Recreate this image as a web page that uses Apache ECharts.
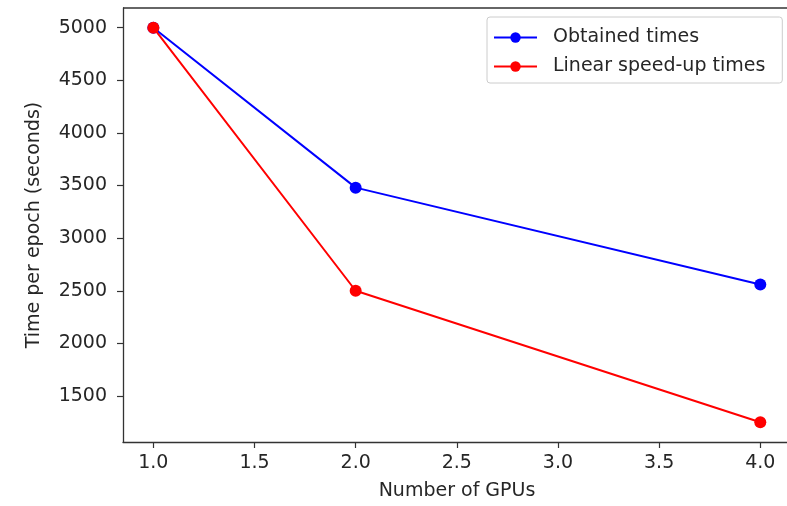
<!DOCTYPE html>
<html>
<head>
<meta charset="utf-8">
<script src="https://cdn.jsdelivr.net/npm/echarts@6/dist/echarts.min.js"></script>
<style>
  html, body { margin: 0; padding: 0; background: #fff; }
  #chart { width: 787px; height: 506px; }
</style>
</head>
<body>
<div id="chart"></div>
<script>
const gpus = [1, 2, 4];
const obtainedTimes = [5000, 3480, 2560];
const linearTimes = [5000, 2500, 1250];
const xTicks = [1.0, 1.5, 2.0, 2.5, 3.0, 3.5, 4.0];
const yTicks = [1500, 2000, 2500, 3000, 3500, 4000, 4500, 5000];

const font = 'DejaVu Sans';
const ink = '#262626';

const chart = echarts.init(document.getElementById('chart'));

const axisCommon = {
  axisLine: { show: true, lineStyle: { color: '#333', width: 1.3 } },
  axisTick: { show: true, length: 6, inside: false, lineStyle: { color: '#333', width: 1.2 } },
  splitLine: { show: false },
  nameTextStyle: { fontFamily: font, fontSize: 19, color: ink }
};

chart.setOption({
  animation: false,
  // the right spine sits just outside the picture, so the x range is cut at the edge
  grid: { left: 123, top: 8, right: 0, bottom: 62, containLabel: false },
  legend: {
    left: 487,
    top: 17,
    orient: 'vertical',
    padding: [11, 17, 7, 6],
    itemWidth: 43,
    itemHeight: 13,
    itemGap: 10,
    borderColor: '#ccc',
    borderWidth: 1,
    borderRadius: 3,
    backgroundColor: '#fff',
    textStyle: { fontFamily: font, fontSize: 19, color: ink, padding: [0, 0, 0, 11] },
    data: ['Obtained times', 'Linear speed-up times']
  },
  xAxis: Object.assign({}, axisCommon, {
    type: 'value',
    min: 0.85,
    max: 4.132,
    name: 'Number of GPUs',
    nameLocation: 'middle',
    nameGap: 40,
    nameTextStyle: { fontFamily: font, fontSize: 19, color: ink, padding: [0, 0, 0, 4] },
    axisTick: Object.assign({}, axisCommon.axisTick, { customValues: xTicks }),
    axisLabel: {
      customValues: xTicks,
      formatter: v => v.toFixed(1),
      fontFamily: font, fontSize: 19, color: ink, margin: 12
    }
  }),
  yAxis: Object.assign({}, axisCommon, {
    type: 'value',
    min: 1062.5,
    max: 5187.5,
    name: 'Time per epoch (seconds)',
    nameLocation: 'middle',
    nameGap: 79,
    axisTick: Object.assign({}, axisCommon.axisTick, { customValues: yTicks }),
    axisLabel: {
      customValues: yTicks,
      formatter: v => String(v),
      fontFamily: font, fontSize: 19, color: ink, margin: 16
    }
  }),
  series: [
    {
      name: 'Obtained times',
      type: 'line',
      data: gpus.map((g, i) => [g, obtainedTimes[i]]),
      color: '#0000ff',
      lineStyle: { width: 2 },
      symbol: 'circle',
      symbolSize: 12,
      z: 2
    },
    {
      name: 'Linear speed-up times',
      type: 'line',
      data: gpus.map((g, i) => [g, linearTimes[i]]),
      color: '#ff0000',
      lineStyle: { width: 2 },
      symbol: 'circle',
      symbolSize: 12,
      z: 3
    }
  ]
});

// top spine of the frame
const topY = chart.convertToPixel({ yAxisIndex: 0 }, 5187.5);
chart.setOption({
  graphic: [{
    type: 'line',
    shape: { x1: 123, y1: topY, x2: 787, y2: topY },
    style: { stroke: '#333', lineWidth: 1.3 },
    silent: true
  }]
});
</script>
</body>
</html>
